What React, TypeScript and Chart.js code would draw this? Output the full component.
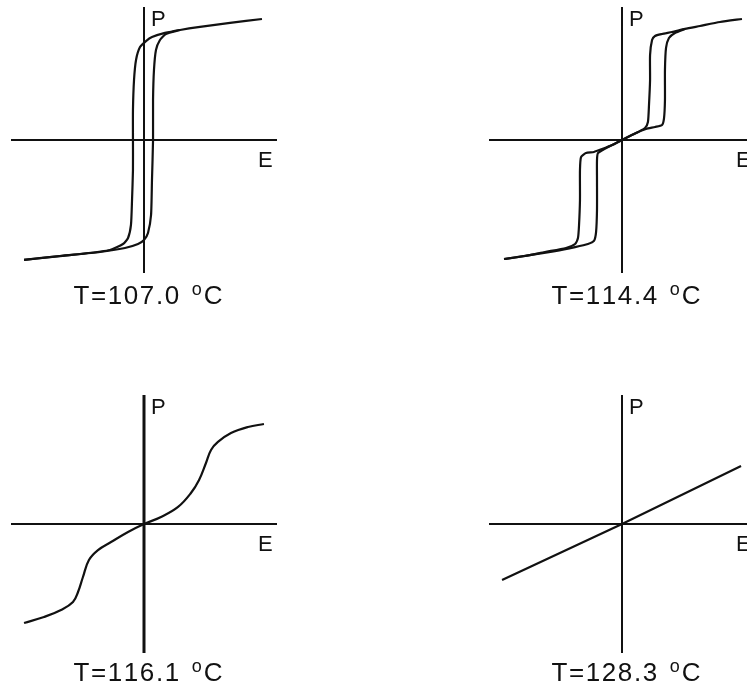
import React, { useEffect, useRef } from "react";
import { Chart, registerables } from "chart.js";

Chart.register(...registerables);

// Axis extent (arbitrary units, E horizontal, P vertical)
const axisMin = -10;
const axisMax = 10;

// Panel 1: T = 107.0 °C  (ferroelectric single loop)
const p1DownE = [8.87, 6.47, 4.21, 2.71, 1.58, 0.6, 0.15, -0.3, -0.6, -0.75, -0.83, -0.83, -0.83, -0.9, -0.98, -1.2, -1.58, -2.56, -4.81, -7.07, -9.02];
const p1DownP = [9.1, 8.8, 8.5, 8.27, 8.05, 7.74, 7.44, 6.99, 6.02, 4.51, 2.26, 0, -2.26, -4.51, -6.39, -7.37, -7.82, -8.27, -8.57, -8.8, -9.02];
const p1UpE = [-9.02, -6.32, -3.31, -1.43, -0.45, 0, 0.3, 0.53, 0.6, 0.68, 0.68, 0.75, 0.9, 1.2, 1.65, 2.71];
const p1UpP = [-9.02, -8.72, -8.42, -8.12, -7.82, -7.52, -6.99, -5.64, -3.01, 0, 3.01, 5.26, 6.77, 7.52, 7.97, 8.27];

// Panel 2: T = 114.4 °C  (double loop)
const p2DownE = [9.02, 7.37, 5.86, 4.74, 3.76, 3.01, 2.48, 2.26, 2.11, 2.11, 2.03, 1.95, 1.73, 1.2, 0.6, 0, -0.75, -1.5, -2.11, -2.71, -3.08, -3.16, -3.16, -3.23, -3.31, -3.53, -4.21, -5.79, -7.29, -8.87];
const p2DownP = [9.1, 8.87, 8.57, 8.35, 8.12, 7.97, 7.82, 7.52, 6.39, 4.51, 2.63, 1.35, 0.9, 0.6, 0.3, 0, -0.38, -0.68, -0.9, -0.98, -1.28, -2.26, -4.51, -6.39, -7.37, -7.82, -8.12, -8.42, -8.72, -8.95];
const p2UpE = [-8.87, -6.92, -5.04, -3.53, -2.56, -2.11, -1.95, -1.88, -1.88, -1.88, -1.8, -0.9, 0, 0.9, 1.8, 2.48, 3.01, 3.16, 3.23, 3.23, 3.31, 3.53, 3.98, 4.74];
const p2UpP = [-8.95, -8.65, -8.35, -8.05, -7.82, -7.59, -6.92, -5.26, -3.01, -1.5, -0.98, -0.45, 0, 0.45, 0.83, 0.98, 1.13, 1.65, 3.01, 5.26, 6.92, 7.67, 8.05, 8.35];

// Panel 3: T = 116.1 °C  (S-shaped, no hysteresis)
const p3E = [-9.02, -7.52, -6.24, -5.34, -4.96, -4.59, -4.14, -3.46, -2.48, -1.2, 0, 1.28, 2.56, 3.53, 4.14, 4.66, 5.04, 5.56, 6.54, 7.82, 9.02];
const p3P = [-7.67, -7.21, -6.67, -6.05, -5.27, -4.11, -2.79, -2.02, -1.4, -0.62, 0, 0.54, 1.32, 2.4, 3.41, 4.73, 5.74, 6.36, 7.05, 7.52, 7.75];

// Panel 4: T = 128.3 °C  (linear dielectric)
const p4E = [-9.02, 0, 8.95];
const p4P = [-4.34, 0, 4.5];

// Axes drawn through the origin
const axisHE = [axisMin, axisMax];
const axisHP = [0, 0];
const axisVE = [0, 0];
const axisVP = [axisMin, axisMax];

const temperatures = ["107.0", "114.4", "116.1", "128.3"];

const INK = "#111111";
const FONT = "'Liberation Sans', Arial, sans-serif";

function pts(es: number[], ps: number[]) {
  return es.map((e, i) => ({ x: e, y: ps[i] }));
}

function spacedWidth(ctx: CanvasRenderingContext2D, s: string, sp: number) {
  let w = 0;
  for (const ch of s) w += ctx.measureText(ch).width + sp;
  return w;
}

function drawSpaced(ctx: CanvasRenderingContext2D, s: string, x: number, y: number, sp: number) {
  for (const ch of s) {
    ctx.fillText(ch, x, y);
    x += ctx.measureText(ch).width + sp;
  }
  return x;
}

const labelPlugin = {
  id: "peLabels",
  afterDatasetsDraw(chart: any, _args: any, opts: any) {
    const { ctx, chartArea, scales } = chart;
    const x0 = scales.x.getPixelForValue(0);
    const y0 = scales.y.getPixelForValue(0);
    ctx.save();
    ctx.fillStyle = INK;
    ctx.textBaseline = "alphabetic";
    ctx.textAlign = "left";
    ctx.font = `22px ${FONT}`;
    ctx.fillText("P", x0 + 7, chartArea.top + 19);
    ctx.fillText("E", chartArea.right - 19, y0 + 27);

    // caption  T=xxx.x °C
    const main = `T=${opts.temp}`;
    const sp = 1.6;
    const bigFont = `26px ${FONT}`;
    const smallFont = `18px ${FONT}`;
    ctx.font = bigFont;
    const wMain = spacedWidth(ctx, main, sp);
    const wC = ctx.measureText("C").width;
    ctx.font = smallFont;
    const wO = ctx.measureText("o").width;
    const gap1 = 11;
    const gap2 = 2;
    const total = wMain + gap1 + wO + gap2 + wC;
    const base = chartArea.bottom + opts.captionOffset;
    let x = x0 + 4 - total / 2;
    ctx.font = bigFont;
    x = drawSpaced(ctx, main, x, base, sp);
    x += gap1;
    ctx.font = smallFont;
    ctx.fillText("o", x, base - 9);
    x += wO + gap2;
    ctx.font = bigFont;
    ctx.fillText("C", x, base);
    ctx.restore();
  },
};

type PanelProps = {
  left: number;
  top: number;
  width: number;
  height: number;
  padding: { left: number; top: number; right: number; bottom: number };
  curves: { e: number[]; p: number[]; tension: number }[];
  temp: string;
  captionOffset: number;
  vAxisWidth: number;
};

function Panel(props: PanelProps) {
  const ref = useRef<HTMLCanvasElement | null>(null);
  useEffect(() => {
    if (!ref.current) return;
    const datasets: any[] = [
      { data: pts(axisHE, axisHP), borderColor: INK, borderWidth: 2, tension: 0 },
      { data: pts(axisVE, axisVP), borderColor: INK, borderWidth: props.vAxisWidth, tension: 0 },
      ...props.curves.map((c) => ({
        data: pts(c.e, c.p),
        borderColor: INK,
        borderWidth: 2.2,
        tension: c.tension,
      })),
    ].map((d) => ({ ...d, showLine: true, pointRadius: 0, fill: false, clip: 4 }));
    const chart = new Chart(ref.current, {
      type: "scatter",
      data: { datasets },
      options: {
        animation: false,
        responsive: false,
        devicePixelRatio: 1,
        layout: { padding: props.padding },
        plugins: {
          legend: { display: false },
          tooltip: { enabled: false },
          peLabels: { temp: props.temp, captionOffset: props.captionOffset },
        } as any,
        scales: {
          x: { type: "linear", min: axisMin, max: axisMax, display: false },
          y: { type: "linear", min: axisMin, max: axisMax, display: false },
        },
        events: [],
      },
      plugins: [labelPlugin],
    });
    return () => chart.destroy();
  }, []);
  return (
    <div style={{ position: "absolute", left: props.left, top: props.top, width: props.width, height: props.height }}>
      <canvas ref={ref} width={props.width} height={props.height} style={{ width: props.width, height: props.height, display: "block" }} />
    </div>
  );
}

export default function App() {
  return (
    <div style={{ position: "fixed", left: 0, top: 0, width: 747, height: 691, overflow: "hidden", background: "#ffffff" }}>
      <Panel
        left={0}
        top={0}
        width={373}
        height={320}
        padding={{ left: 11, top: 7, right: 96, bottom: 47 }}
        curves={[
          { e: p1DownE, p: p1DownP, tension: 0.2 },
          { e: p1UpE, p: p1UpP, tension: 0.2 },
        ]}
        temp={temperatures[0]}
        captionOffset={31}
        vAxisWidth={2}
      />
      <Panel
        left={373}
        top={0}
        width={390}
        height={320}
        padding={{ left: 116, top: 7, right: 8, bottom: 47 }}
        curves={[
          { e: p2DownE, p: p2DownP, tension: 0.2 },
          { e: p2UpE, p: p2UpP, tension: 0.2 },
        ]}
        temp={temperatures[1]}
        captionOffset={31}
        vAxisWidth={2}
      />
      <Panel
        left={0}
        top={345}
        width={373}
        height={346}
        padding={{ left: 11, top: 50, right: 96, bottom: 38 }}
        curves={[{ e: p3E, p: p3P, tension: 0.4 }]}
        temp={temperatures[2]}
        captionOffset={28}
        vAxisWidth={3}
      />
      <Panel
        left={373}
        top={345}
        width={390}
        height={346}
        padding={{ left: 116, top: 50, right: 8, bottom: 38 }}
        curves={[{ e: p4E, p: p4P, tension: 0 }]}
        temp={temperatures[3]}
        captionOffset={28}
        vAxisWidth={2}
      />
    </div>
  );
}
